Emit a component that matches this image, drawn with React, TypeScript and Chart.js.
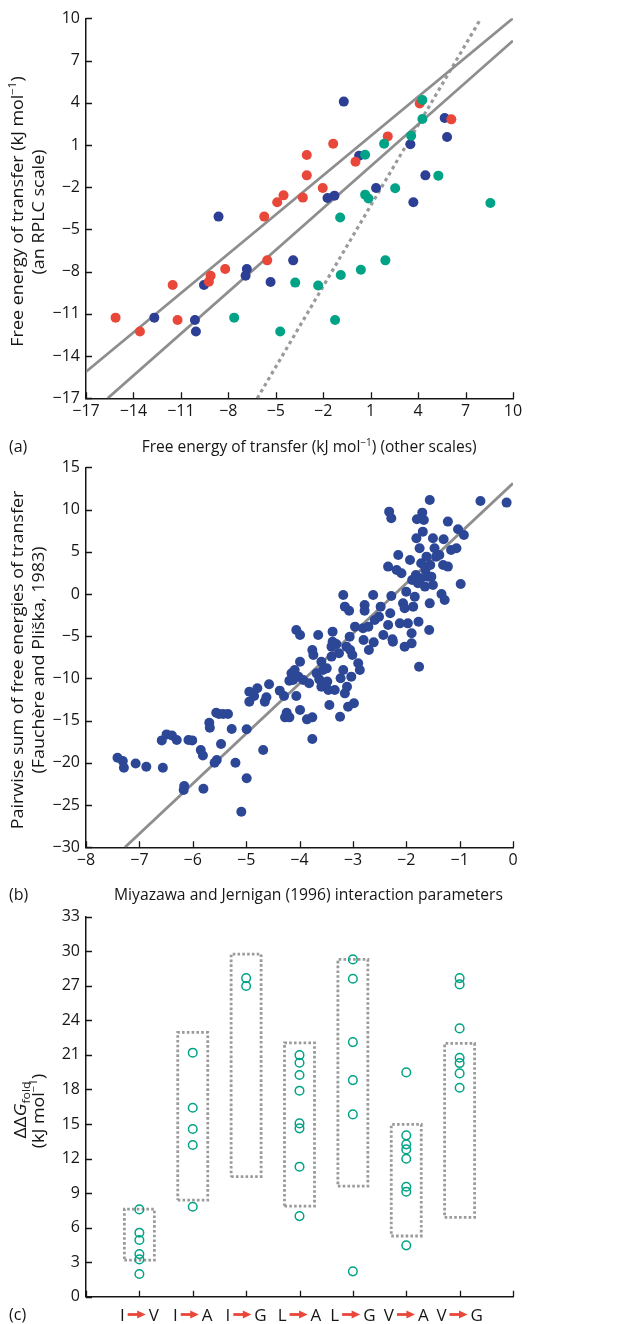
import React, { useEffect, useRef } from 'react';
import { Chart, registerables } from 'chart.js';
Chart.register(...registerables);

const FONT = '"Open Sans", Lato, "DejaVu Sans", sans-serif';
const INK = '#161616';
const RED = '#e8473a';
const BLUE_A = '#2c3f94';
const BLUE_B = '#2d4797';
const TEAL = '#00a386';
const GREY = '#8e8e8e';
const DOT_GREY = '#9a9a9a';

// ---------- Panel (a) ----------
const aTicks = [-17, -14, -11, -8, -5, -2, 1, 4, 7, 10];
const aRed = [[-15.13, -11.27], [-13.59, -12.26], [-11.52, -8.95], [-11.21, -11.44], [-9.12, -8.29], [-9.23, -8.71], [-8.2, -7.81], [-5.73, -4.09], [-5.54, -7.2], [-4.91, -3.07], [-4.51, -2.58], [-3.29, -2.74], [-3.04, -1.16], [-3.04, 0.29], [-2.03, -2.06], [-1.37, 1.09], [0.04, -0.19], [2.08, 1.61], [4.1, 3.94], [6.1, 2.82]];
const aBlue = [[-12.68, -11.27], [-10.11, -11.44], [-10.05, -12.26], [-9.54, -8.95], [-8.62, -4.09], [-6.83, -7.81], [-6.91, -8.29], [-5.33, -8.74], [-3.9, -7.2], [-1.73, -2.77], [-1.29, -2.6], [-0.7, 4.08], [0.27, 0.24], [1.34, -2.06], [3.51, 1.05], [3.7, -3.07], [4.46, -1.16], [5.68, 2.92], [5.83, 1.57]];
const aTeal = [[-7.63, -11.27], [-4.72, -12.26], [-3.77, -8.78], [-2.32, -8.99], [-1.25, -11.44], [-0.93, -4.16], [-0.89, -8.24], [0.38, -7.86], [0.65, 0.31], [0.65, -2.53], [0.86, -2.81], [1.85, 1.09], [1.93, -7.2], [2.55, -2.08], [3.56, 1.66], [4.27, 4.2], [4.27, 2.85], [5.28, -1.18], [8.57, -3.12]];
const aUpperFit = [[-17, -15.11], [10, 10]];
const aLowerFit = [[-15.63, -17], [10, 8.41]];
const aDottedFit = [[-6.17, -17], [7.94, 9.93]];

// ---------- Panel (b) ----------
const bTicksX = [-8, -7, -6, -5, -4, -3, -2, -1, 0];
const bTicksY = [-30, -25, -20, -15, -10, -5, 0, 5, 10, 15];
const bPoints = [
  [-7.41, -19.4], [-7.31, -19.79], [-7.29, -20.58], [-7.07, -20.07], [-6.87, -20.46], [-6.56, -20.58],
  [-6.58, -17.34], [-6.49, -16.63], [-6.39, -16.75], [-6.3, -17.3], [-6.08, -17.3], [-6.01, -17.34],
  [-5.85, -18.49], [-5.81, -19.12], [-6.16, -22.75], [-6.17, -23.22], [-5.8, -23.07], [-5.69, -15.25],
  [-5.68, -15.84], [-5.56, -14.07], [-5.51, -14.21], [-5.43, -14.21], [-5.34, -14.21], [-5.47, -17.77],
  [-5.55, -19.66], [-5.59, -19.98], [-5.27, -15.99], [-5.2, -19.98], [-5.09, -25.78], [-4.99, -21.83],
  [-4.99, -16.03], [-4.94, -11.57], [-4.94, -12.75], [-4.85, -12.08], [-4.79, -11.17], [-4.65, -12.75],
  [-4.62, -12.24], [-4.57, -10.7], [-4.68, -18.48], [-4.37, -11.45], [-4.29, -12.08], [-4.19, -10.27],
  [-4.15, -9.4], [-4.12, -10.19], [-4.09, -9.0], [-4.06, -12.08], [-4.24, -14.06], [-4.27, -14.61],
  [-4.19, -14.61], [-4.06, -4.27], [-3.99, -4.86], [-3.99, -8.02], [-4.02, -9.79], [-3.93, -10.19],
  [-3.99, -13.74], [-3.82, -10.58], [-3.86, -14.85], [-3.76, -14.61], [-3.76, -17.18], [-3.76, -6.63],
  [-3.74, -7.23], [-3.65, -4.86], [-3.68, -9.4], [-3.63, -10.11], [-3.59, -8.02], [-3.59, -10.98],
  [-3.56, -9.0], [-3.49, -8.81], [-3.48, -10.38], [-3.46, -11.37], [-3.44, -13.15], [-3.4, -6.24],
  [-3.38, -4.46], [-3.38, -5.65], [-3.4, -7.42], [-3.34, -11.37], [-3.31, -5.92], [-3.26, -7.03],
  [-3.24, -14.53], [-3.23, -9.99], [-3.18, -0.12], [-3.18, -9.0], [-3.15, -1.5], [-3.12, -6.24],
  [-3.15, -11.77], [-3.11, -10.98], [-3.09, -13.35], [-3.07, -1.98], [-3.06, -5.06], [-3.05, -6.63],
  [-3.03, -9.79], [-3.01, -7.23], [-2.98, -12.95], [-2.96, -3.87], [-2.9, -8.21], [-2.87, -9.0],
  [-2.81, -4.07], [-2.8, -5.45], [-2.78, -1.3], [-2.78, -1.98], [-2.71, -3.87], [-2.7, -6.63],
  [-2.62, -0.12], [-2.61, -5.73], [-2.59, -3.09], [-2.51, -2.69], [-2.48, -1.5], [-2.43, -4.86],
  [-2.34, 3.24], [-2.34, -3.67], [-2.32, 9.75], [-2.3, -2.29], [-2.28, -0.24], [-2.28, 8.96],
  [-2.26, -5.37], [-2.25, -5.65], [-2.18, 2.84], [-2.15, 4.62], [-2.12, -3.48], [-2.09, 2.45],
  [-2.06, -1.11], [-2.03, -1.7], [-2.03, -6.24], [-2.0, 0.27], [-1.97, -3.48], [-1.93, 4.02],
  [-1.9, -5.85], [-1.9, -4.66], [-1.89, 1.66], [-1.87, -1.5], [-1.84, -0.32], [-1.81, 6.59],
  [-1.8, 8.84], [-1.77, -3.28], [-1.76, -8.61], [-1.75, 5.41], [-1.73, 1.85], [-1.72, 3.63],
  [-1.7, 9.63], [-1.69, 7.38], [-1.67, 8.76], [-1.65, 0.87], [-1.64, 2.84], [-1.62, 4.42],
  [-1.59, 2.05], [-1.56, 11.13], [-1.56, -1.11], [-1.57, -4.27], [-1.55, 3.43], [-1.53, 2.05],
  [-1.5, 6.59], [-1.5, 1.06], [-1.47, 5.41], [-1.44, 4.42], [-1.38, 4.62], [-1.34, 0.0],
  [-1.31, 3.43], [-1.3, 6.47], [-1.28, -0.71], [-1.22, 8.57], [-1.22, 3.24], [-1.16, 5.21],
  [-1.06, 5.41], [-1.03, 7.66], [-0.98, 1.18], [-0.92, 6.99], [-0.61, 11.01], [-0.12, 10.82],
  [-1.82, 2.25], [-1.78, 1.26]
];
const bFit = [[-7.27, -30], [0, 13.1]];

// ---------- Panel (c) ----------
const cTicksX = [0, 1, 2, 3, 4, 5, 6, 7, 8];
const cTicksY = [0, 3, 6, 9, 12, 15, 18, 21, 24, 27, 30, 33];
const cFrom = ['I', 'I', 'I', 'L', 'L', 'V', 'V'];
const cTo = ['V', 'A', 'G', 'A', 'G', 'A', 'G'];
const cValues = [
  [7.58, 5.56, 4.92, 3.7, 3.24, 1.97],
  [21.19, 16.41, 14.56, 13.17, 7.81],
  [27.67, 26.98],
  [20.98, 20.32, 19.25, 17.89, 15.05, 14.62, 11.29, 7.0],
  [29.29, 27.61, 22.11, 18.81, 15.83, 2.2],
  [19.48, 14.01, 13.23, 12.79, 11.98, 9.55, 9.12, 4.46],
  [27.67, 27.12, 23.3, 20.75, 20.29, 19.39, 18.15]
];
const cBoxLow = [3.18, 8.39, 10.42, 7.87, 9.61, 5.27, 6.89];
const cBoxHigh = [7.61, 22.95, 29.75, 22.05, 29.29, 14.96, 22.0];
const BOX_HALF = 0.281;

// ---------- helpers ----------
type Seg = { t: string; sup?: boolean; sub?: boolean; it?: boolean };
const segFont = (s: Seg, size: number) =>
  `${s.it ? 'italic ' : ''}${s.sup || s.sub ? size * 0.64 : size}px ${FONT}`;
function richWidth(ctx: CanvasRenderingContext2D, segs: Seg[], size: number) {
  let w = 0;
  for (const s of segs) { ctx.font = segFont(s, size); w += ctx.measureText(s.t).width; }
  return w;
}
// Draws mixed text (superscript/subscript) centred at (cx, cy); squeezes it horizontally to a target width.
function drawRich(ctx: CanvasRenderingContext2D, segs: Seg[], cx: number, cy: number,
  opts: { width?: number; size?: number; rotate?: boolean; align?: 'left' | 'center' }) {
  const size = opts.size ?? 16;
  const natural = richWidth(ctx, segs, size);
  let sx = 1;
  if (opts.width) sx = Math.max(0.72, Math.min(1.12, opts.width / natural));
  ctx.save();
  ctx.translate(cx, cy);
  if (opts.rotate) ctx.rotate(-Math.PI / 2);
  ctx.scale(sx, 1);
  ctx.fillStyle = INK;
  ctx.textAlign = 'left';
  ctx.textBaseline = 'alphabetic';
  let x = opts.align === 'left' ? 0 : -natural / 2;
  const base = size * 0.36;
  for (const s of segs) {
    ctx.font = segFont(s, size);
    const dy = s.sup ? -size * 0.42 : s.sub ? size * 0.22 : 0;
    ctx.fillText(s.t, x, base + dy);
    x += ctx.measureText(s.t).width;
  }
  ctx.restore();
}
const toXY = (arr: number[][]) => arr.map(([x, y]) => ({ x, y }));
const minus = (v: any) => String(v).replace('-', '\u2212');

type Area = { left: number; right: number; top: number; bottom: number };
interface Spec {
  height: number;
  area: Area;
  x: { min: number; max: number; ticks: number[]; labels: boolean };
  y: { min: number; max: number; ticks: number[] };
  datasets: any[];
  decorate: (chart: any) => void;
}

function build(canvas: HTMLCanvasElement, spec: Spec) {
  const { area, height } = spec;
  const tickFont = { family: FONT, size: 16 };
  const inward = {
    id: 'inwardTicks',
    afterDraw(chart: any) {
      const { ctx, chartArea, scales } = chart;
      ctx.save();
      ctx.strokeStyle = INK;
      ctx.lineWidth = 1.3;
      ctx.beginPath();
      for (const v of spec.x.ticks) {
        const px = Math.round(scales.x.getPixelForValue(v)) + 0.5;
        ctx.moveTo(px, chartArea.bottom);
        ctx.lineTo(px, chartArea.bottom - 6);
      }
      for (const v of spec.y.ticks) {
        const py = Math.round(scales.y.getPixelForValue(v)) + 0.5;
        ctx.moveTo(chartArea.left, py);
        ctx.lineTo(chartArea.left + 6, py);
      }
      ctx.stroke();
      ctx.restore();
      spec.decorate(chart);
    }
  };
  return new Chart(canvas, {
    type: 'scatter',
    data: { datasets: spec.datasets },
    options: {
      responsive: false,
      animation: false,
      devicePixelRatio: 1,
      layout: { padding: { left: 0, top: area.top, right: 624 - area.right, bottom: 0 } },
      plugins: { legend: { display: false }, tooltip: { enabled: false } },
      scales: {
        x: {
          type: 'linear', min: spec.x.min, max: spec.x.max,
          afterBuildTicks: (s: any) => { s.ticks = spec.x.ticks.map((v) => ({ value: v })); },
          afterFit: (s: any) => { s.height = height - area.bottom; },
          grid: { display: false, drawTicks: false, tickLength: 0 },
          border: { display: true, color: INK, width: 1.5 },
          ticks: { display: spec.x.labels, padding: 4, font: tickFont, color: INK, autoSkip: false, maxRotation: 0, callback: minus }
        },
        y: {
          type: 'linear', min: spec.y.min, max: spec.y.max,
          afterBuildTicks: (s: any) => { s.ticks = spec.y.ticks.map((v) => ({ value: v })); },
          afterFit: (s: any) => { s.width = area.left; },
          grid: { display: false, drawTicks: false, tickLength: 0 },
          border: { display: true, color: INK, width: 1.5 },
          ticks: { padding: 6, font: tickFont, color: INK, autoSkip: false, callback: minus }
        }
      }
    } as any,
    plugins: [inward]
  });
}

const lineDs = (pts: number[][], color: string, width: number, dash: number[] = []) => ({
  data: toXY(pts), showLine: true, pointRadius: 0, borderColor: color, borderWidth: width,
  borderDash: dash, borderCapStyle: 'butt', fill: false
});
const pointDs = (pts: number[][], color: string, r: number) => ({
  data: toXY(pts), pointRadius: r, pointBackgroundColor: color, pointBorderWidth: 0, showLine: false
});

const MOL: Seg[] = [{ t: 'kJ mol' }, { t: '\u22121', sup: true }];

function buildA(canvas: HTMLCanvasElement) {
  return build(canvas, {
    height: 462,
    area: { left: 86, right: 513, top: 18.3, bottom: 398.3 },
    x: { min: -17, max: 10, ticks: aTicks, labels: true },
    y: { min: -17, max: 10, ticks: aTicks },
    datasets: [
      pointDs(aTeal, TEAL, 5),
      pointDs(aRed, RED, 5),
      pointDs(aBlue, BLUE_A, 5),
      lineDs(aUpperFit, GREY, 2.8),
      lineDs(aLowerFit, GREY, 2.8),
      lineDs(aDottedFit, DOT_GREY, 3.2, [3.5, 3.5])
    ],
    decorate: (chart) => {
      const ctx = chart.ctx;
      drawRich(ctx, [{ t: '(a)' }], 9, 446.5, { size: 16, align: 'left' });
      drawRich(ctx, [{ t: 'Free energy of transfer (' }, ...MOL, { t: ') (other scales)' }], 309.2, 446.5, { width: 335 });
      drawRich(ctx, [{ t: 'Free energy of transfer (' }, ...MOL, { t: ')' }], 17, 211.5, { width: 273, rotate: true });
      drawRich(ctx, [{ t: '(an RPLC scale)' }], 38, 212, { width: 130, rotate: true });
    }
  });
}

function buildB(canvas: HTMLCanvasElement) {
  return build(canvas, {
    height: 462,
    area: { left: 86, right: 513, top: 22.3, bottom: 402.3 },
    x: { min: -8, max: 0, ticks: bTicksX, labels: true },
    y: { min: -30, max: 15, ticks: bTicksY },
    datasets: [
      pointDs(bPoints, BLUE_B, 5),
      lineDs(bFit, GREY, 2.8)
    ],
    decorate: (chart) => {
      const ctx = chart.ctx;
      drawRich(ctx, [{ t: '(b)' }], 9, 449, { size: 16, align: 'left' });
      drawRich(ctx, [{ t: 'Miyazawa and Jernigan (1996) interaction parameters' }], 308.5, 449, { width: 389 });
      drawRich(ctx, [{ t: 'Pairwise sum of free energies of transfer' }], 17, 215, { width: 340, rotate: true });
      drawRich(ctx, [{ t: '(Fauch\u00e8re and Pli\u0161ka, 1983)' }], 38, 215, { width: 236, rotate: true });
    }
  });
}

function buildC(canvas: HTMLCanvasElement) {
  const circles = cValues.flatMap((vals, i) => vals.map((v) => [i + 1, v]));
  const boxes = cBoxLow.map((lo, i) => {
    const hi = cBoxHigh[i];
    const x = i + 1;
    return lineDs([[x - BOX_HALF, lo], [x + BOX_HALF, lo], [x + BOX_HALF, hi], [x - BOX_HALF, hi], [x - BOX_HALF, lo]], DOT_GREY, 2.8, [2.6, 2.2]);
  });
  return build(canvas, {
    height: 429,
    area: { left: 86, right: 513, top: 21.7, bottom: 401.7 },
    x: { min: 0, max: 8, ticks: cTicksX, labels: false },
    y: { min: 0, max: 33, ticks: cTicksY },
    datasets: [
      { data: toXY(circles), pointRadius: 4.3, pointBackgroundColor: 'rgba(0,0,0,0)', pointBorderColor: TEAL, pointBorderWidth: 1.5, showLine: false },
      ...boxes
    ],
    decorate: (chart) => {
      const ctx = chart.ctx;
      const cy = 419.5;
      drawRich(ctx, [{ t: '(c)' }], 9, cy, { size: 16, align: 'left' });
      drawRich(ctx, [{ t: '\u0394\u0394' }, { t: 'G', it: true }, { t: 'fold', sub: true }], 20, 215, { width: 63, size: 17, rotate: true });
      drawRich(ctx, [{ t: '(' }, ...MOL, { t: ')' }], 38, 216, { width: 78, rotate: true });
      const xs = chart.scales.x;
      const size = 17;
      cFrom.forEach((f, i) => {
        const cx = xs.getPixelForValue(i + 1);
        ctx.save();
        ctx.font = `${size}px ${FONT}`;
        ctx.textBaseline = 'alphabetic';
        ctx.textAlign = 'left';
        const w1 = ctx.measureText(f).width;
        const w2 = ctx.measureText(cTo[i]).width;
        const gap = 3, aw = 18;
        const total = w1 + gap + aw + gap + w2;
        let x = cx - total / 2;
        ctx.fillStyle = INK;
        ctx.fillText(f, x, cy + size * 0.36);
        x += w1 + gap;
        ctx.fillStyle = RED;
        ctx.fillRect(x, cy - 1.4, aw - 7, 2.8);
        ctx.beginPath();
        ctx.moveTo(x + aw - 8.5, cy - 4);
        ctx.lineTo(x + aw, cy);
        ctx.lineTo(x + aw - 8.5, cy + 4);
        ctx.closePath();
        ctx.fill();
        x += aw + gap;
        ctx.fillStyle = INK;
        ctx.fillText(cTo[i], x, cy + size * 0.36);
        ctx.restore();
      });
    }
  });
}

function Panel({ top, height, make }: { top: number; height: number; make: (c: HTMLCanvasElement) => Chart }) {
  const ref = useRef<HTMLCanvasElement>(null);
  useEffect(() => {
    const chart = make(ref.current as HTMLCanvasElement);
    return () => chart.destroy();
  }, []);
  return (
    <canvas ref={ref} width={624} height={height}
      style={{ position: 'absolute', left: 0, top, width: 624, height }} />
  );
}

export default function App() {
  return (
    <div style={{ position: 'absolute', left: 0, top: 0, width: 624, height: 1324, background: '#ffffff', overflow: 'hidden' }}>
      <Panel top={0} height={462} make={buildA} />
      <Panel top={445} height={462} make={buildB} />
      <Panel top={895} height={429} make={buildC} />
    </div>
  );
}
